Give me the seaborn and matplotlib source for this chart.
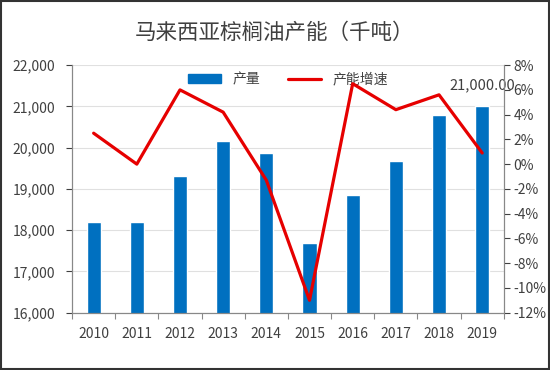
import matplotlib
matplotlib.use('Agg')
import matplotlib.pyplot as plt
import matplotlib.ticker as mticker
from matplotlib.lines import Line2D
from matplotlib.patches import Patch
import pandas as pd
import seaborn as sns

years = ['2010', '2011', '2012', '2013', '2014', '2015', '2016', '2017', '2018', '2019']
output = [18200, 18200, 19310, 20150, 19870, 17700, 18850, 19670, 20790, 21000]
growth = [2.5, 0.0, 6.0, 4.2, -1.3, -11.0, 6.5, 4.4, 5.6, 0.9]

sns.set_theme(style='white')
plt.rcParams['font.family'] = ['Noto Sans CJK SC', 'DejaVu Sans']

df = pd.DataFrame({'year': years, 'output': output, 'growth': growth})
grey = '#404040'

fig = plt.figure(figsize=(5.5, 3.7), dpi=100)
ax = fig.add_axes([0.131, 0.155, 0.785, 0.669])

sns.barplot(data=df, x='year', y='output', color='#0070C0', saturation=1,
            width=0.33, ax=ax)
ax.set_ylim(16000, 22000)
ax.yaxis.set_major_locator(mticker.MultipleLocator(1000))
ax.yaxis.set_major_formatter(mticker.StrMethodFormatter('{x:,.0f}'))
ax.grid(axis='y', color='#e0e0e0', linewidth=0.8)
ax.set_axisbelow(True)
ax.set_xlabel('')
ax.set_ylabel('')

# last bar label
ax.annotate(f'{output[-1]:,.2f}', xy=(9, output[-1]), xytext=(0, 10),
            textcoords='offset points', ha='center', va='bottom',
            fontsize=10.5, color=grey)

ax2 = ax.twinx()
sns.lineplot(data=df, x='year', y='growth', color='#E60000', linewidth=2.3,
             sort=False, ax=ax2)
ax2.set_ylim(-12, 8)
ax2.yaxis.set_major_locator(mticker.MultipleLocator(2))
ax2.yaxis.set_major_formatter(mticker.FuncFormatter(lambda v, p: f'{v:.0f}%'))
ax2.set_ylabel('')
ax2.set_xlabel('')
ax2.grid(False)

for a in (ax, ax2):
    a.spines['top'].set_visible(False)
    for side in ('left', 'right', 'bottom'):
        a.spines[side].set_color('#888888')
        a.spines[side].set_linewidth(0.8)
    a.tick_params(colors=grey, labelsize=10, length=4, width=0.8, direction='out')

ax.tick_params(axis='y', left=True, pad=8)
ax2.tick_params(axis='y', right=True, pad=3)
ax.set_xticks(range(len(years)))
ax.set_xticklabels(years)
ax.tick_params(axis='x', bottom=False, pad=6)
ax.set_xticks([i - 0.5 for i in range(len(years) + 1)], minor=True)
ax.tick_params(axis='x', which='minor', bottom=True, length=4, width=0.8, color='#888888')
ax.set_xlim(-0.5, len(years) - 0.5)

handles = [Patch(color='#0070C0'), Line2D([], [], color='#E60000', linewidth=2.3)]
ax.legend(handles, ['产量', '产能增速'], loc='upper center', ncol=2, frameon=False,
          fontsize=10, bbox_to_anchor=(0.5, 1.02), handlelength=2.4, columnspacing=2.0,
          labelcolor=grey, handleheight=0.6)

fig.text(0.5, 0.91, '马来西亚棕榈油产能（千吨）', ha='center', va='center',
         fontsize=15.5, color=grey)

fig.patches.append(plt.Rectangle((0.002, 0.002), 0.996, 0.996, transform=fig.transFigure,
                                 fill=False, edgecolor='#333333', linewidth=1.5))

fig.savefig('out.png', dpi=100)
